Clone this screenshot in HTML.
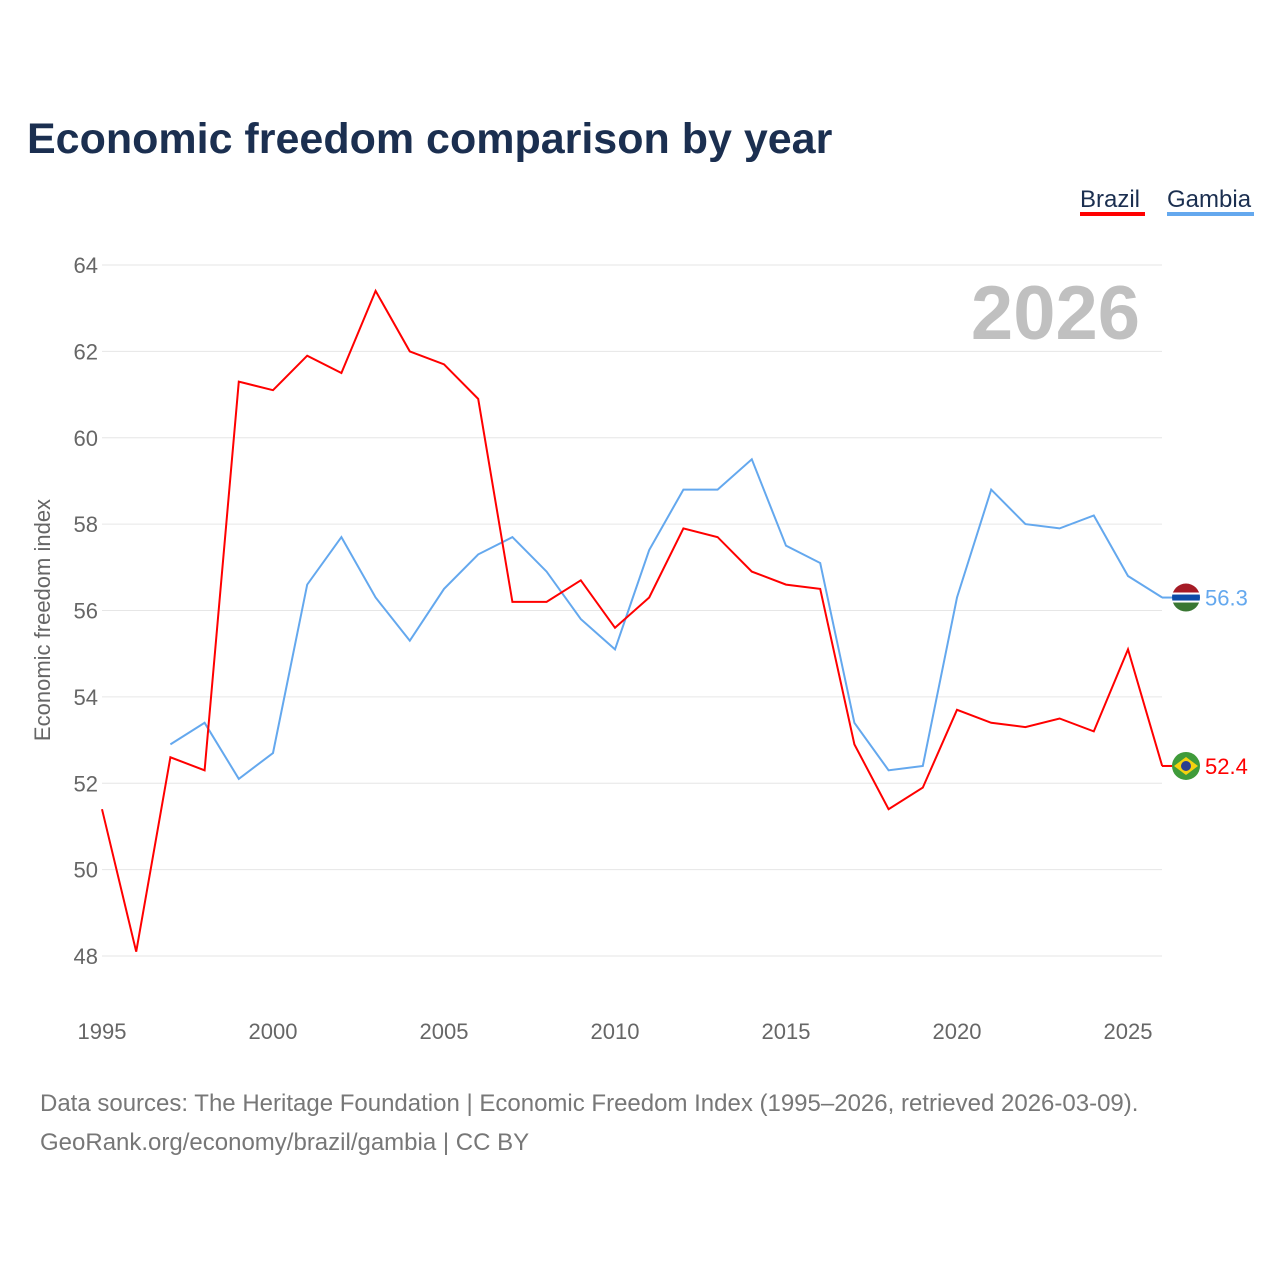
<!DOCTYPE html>
<html><head><meta charset="utf-8"><style>
body{margin:0;background:#fff;font-family:"Liberation Sans",sans-serif}
#wrap{position:relative;width:1280px;height:1280px}
</style></head><body>
<div id="wrap">
<svg id="chart" width="1280" height="1280"></svg>
</div>
<script>
const years=[1995,1996,1997,1998,1999,2000,2001,2002,2003,2004,2005,2006,2007,2008,2009,2010,2011,2012,2013,2014,2015,2016,2017,2018,2019,2020,2021,2022,2023,2024,2025,2026];
const brazil=[51.4,48.1,52.6,52.3,61.3,61.1,61.9,61.5,63.4,62.0,61.7,60.9,56.2,56.2,56.7,55.6,56.3,57.9,57.7,56.9,56.6,56.5,52.9,51.4,51.9,53.7,53.4,53.3,53.5,53.2,55.1,52.4];
const gambia=[null,null,52.9,53.4,52.1,52.7,56.6,57.7,56.3,55.3,56.5,57.3,57.7,56.9,55.8,55.1,57.4,58.8,58.8,59.5,57.5,57.1,53.4,52.3,52.4,56.3,58.8,58.0,57.9,58.2,56.8,56.3];
const yTicks=[48,50,52,54,56,58,60,62,64];
const xTicks=[1995,2000,2005,2010,2015,2020,2025];
const NS="http://www.w3.org/2000/svg";
const svg=document.getElementById('chart');
const X=y=>102+(y-1995)*(1128-102)/30;
const Y=v=>265+(64-v)*(956-265)/16;
function el(t,a,txt){const e=document.createElementNS(NS,t);for(const k in a)e.setAttribute(k,a[k]);if(txt!==undefined)e.textContent=txt;svg.appendChild(e);return e;}
let e;
e=el('text',{x:27,y:153,'font-size':43,'font-weight':'bold',fill:'#1b2f50'},'Economic freedom comparison by year');


e=el('text',{x:1080,y:207,'font-size':24,fill:'#1b2f50'},'Brazil');


el('rect',{x:1080,y:212,width:65,height:4,fill:'#ff0000'});
e=el('text',{x:1167,y:207,'font-size':24,fill:'#1b2f50'},'Gambia');


el('rect',{x:1167,y:212,width:87,height:4,fill:'#64a8ee'});
yTicks.forEach(t=>{
 e=el('line',{x1:102,x2:1162,y1:Y(t),y2:Y(t),stroke:'#e6e6e6','stroke-width':1});
 
 
 e=el('text',{x:98,y:Y(t)+8,'font-size':22,fill:'#666','text-anchor':'end'},t);
 
 
});
xTicks.forEach(t=>{
 e=el('text',{x:X(t),y:1039,'font-size':22,fill:'#666','text-anchor':'middle'},t);
 
 
});
e=el('text',{x:0,y:0,'font-size':22,fill:'#666','text-anchor':'middle',transform:'translate(50,620) rotate(-90)'},'Economic freedom index');


e=el('text',{x:1140,y:339,'font-size':76,'font-weight':'bold',fill:'#c0c0c0','text-anchor':'end'},'2026');


function line(vals,color,name){
 let d='';vals.forEach((v,i)=>{if(v==null)return;d+=(d?'L':'M')+X(years[i]).toFixed(1)+','+Y(v).toFixed(1);});
 const p=el('path',{d:d,fill:'none',stroke:color,'stroke-width':2});
 
 
}
line(gambia,'#64a8ee','gambia-line');
line(brazil,'#ff0000','brazil-line');
function endLabel(vals,color,name,flag){
 const v=vals[vals.length-1];const y=Y(v);
 el('line',{x1:1162,x2:1172,y1:y,y2:y,stroke:color,'stroke-width':2});
 const g=document.createElementNS(NS,'g');svg.appendChild(g);
 
 
 if(flag==='gm'){
  g.innerHTML='<clipPath id="cg"><circle cx="1186" cy="'+y+'" r="14"/></clipPath><g clip-path="url(#cg)"><rect x="1170" y="'+(y-15)+'" width="32" height="10" fill="#a51b26"/><rect x="1170" y="'+(y-5)+'" width="32" height="10" fill="#fff"/><rect x="1170" y="'+(y-3)+'" width="32" height="6" fill="#0c4ca8"/><rect x="1170" y="'+(y+5)+'" width="32" height="10" fill="#3a7733"/></g>';
 }else{
  g.innerHTML='<circle cx="1186" cy="'+y+'" r="14" fill="#3f9b3a"/><path d="M1174 '+y+' L1186 '+(y-9)+' L1198 '+y+' L1186 '+(y+9)+'Z" fill="#f4d20f"/><circle cx="1186" cy="'+y+'" r="5" fill="#2a3f8f"/>';
 }
 e=el('text',{x:1205,y:y+8,'font-size':22,fill:color},v.toFixed(1));
 
 
}
endLabel(gambia,'#64a8ee','gambia','gm');
endLabel(brazil,'#ff0000','brazil','br');
e=el('text',{x:40,y:1111,'font-size':24,fill:'#777'},'Data sources: The Heritage Foundation | Economic Freedom Index (1995–2026, retrieved 2026-03-09).');


e=el('text',{x:40,y:1150,'font-size':24,fill:'#777'},'GeoRank.org/economy/brazil/gambia | CC BY');


</script>
</body></html>
